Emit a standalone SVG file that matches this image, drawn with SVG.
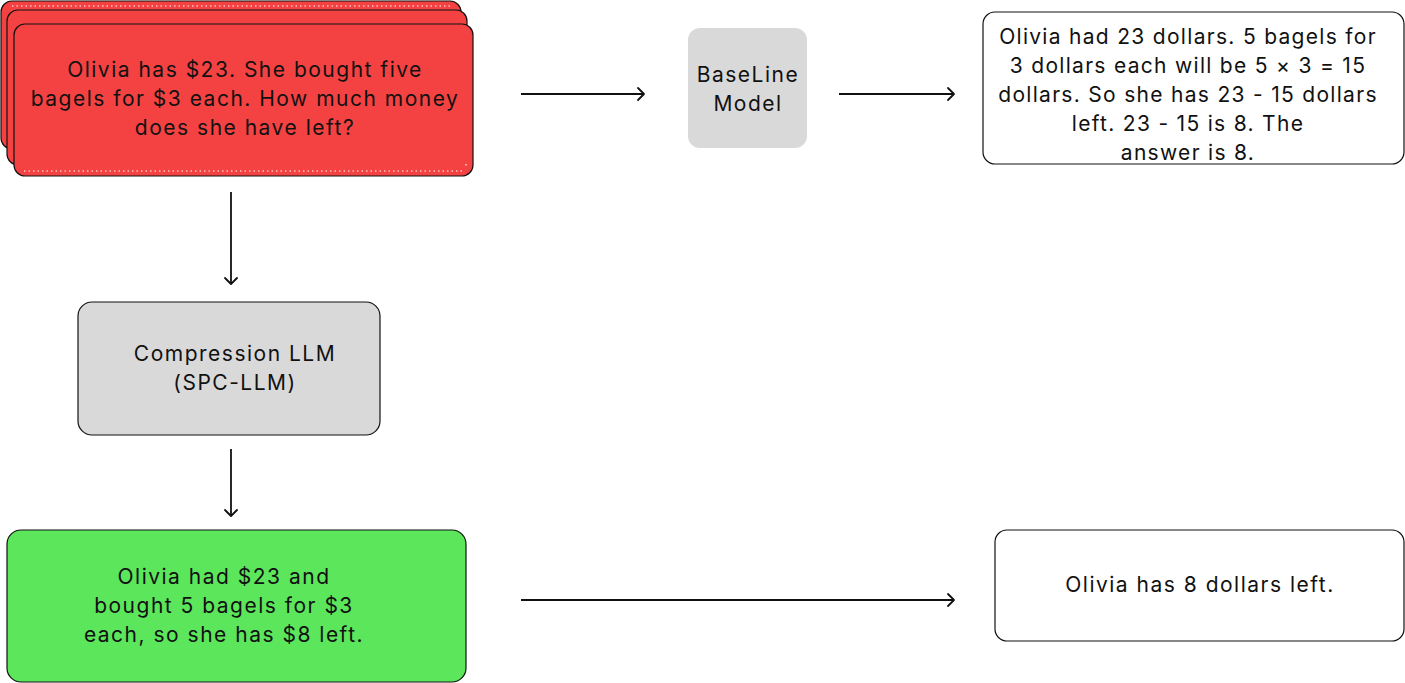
<svg xmlns="http://www.w3.org/2000/svg" width="1405" height="683" viewBox="0 0 1405 683">
<style>
text{font-family:Inter,"Noto Sans",sans-serif;font-size:21px;letter-spacing:1.5px;fill:#111;text-anchor:middle}
.tight{letter-spacing:1.3px}
.red{fill:#F44242;stroke:#111;stroke-width:1.2}
.gray{fill:#D9D9D9}
.box{stroke:#111;stroke-width:1.2}
.wline{fill:none;stroke:#fff;stroke-width:1.2;stroke-dasharray:1.5 3}
.conn{stroke:#111;stroke-width:1.8;fill:none}
.head{stroke:#111;stroke-width:1.8;fill:none;stroke-linecap:round;stroke-linejoin:round}
</style>
<rect width="1405" height="683" fill="#fff"/>
<g id="input">
<rect class="red" x="1" y="1" width="460" height="148" rx="11"/>
<path class="wline" d="M12 6 H452"/>
<rect class="red" x="7" y="10" width="460" height="155" rx="11"/>
<rect class="red" x="14" y="24" width="459" height="152" rx="11"/>
<path class="wline" d="M24 171 H462 M466 164 V168"/>
<text x="245" y="77">Olivia has $23. She bought five</text>
<text x="245" y="106">bagels for $3 each. How much money</text>
<text x="245" y="135">does she have left?</text>
</g>
<g id="baseline">
<rect class="gray" x="688" y="28" width="119" height="120" rx="12"/>
<text x="748" y="82">BaseLine</text>
<text x="748" y="111">Model</text>
</g>
<g id="baseline-output">
<rect class="box" fill="#fff" x="983" y="12" width="421" height="152" rx="12"/>
<text class="tight" x="1188" y="44">Olivia had 23 dollars. 5 bagels for</text>
<text class="tight" x="1188" y="73">3 dollars each will be 5 × 3 = 15</text>
<text class="tight" x="1188" y="102">dollars. So she has 23 - 15 dollars</text>
<text class="tight" x="1188" y="131">left. 23 - 15 is 8. The</text>
<text class="tight" x="1188" y="160">answer is 8.</text>
</g>
<g id="compression">
<rect class="gray box" x="78" y="302" width="302" height="133" rx="14"/>
<text x="235" y="361">Compression LLM</text>
<text x="235" y="390">(SPC-LLM)</text>
</g>
<g id="compressed">
<rect class="box" fill="#5CE65C" x="7" y="530" width="459" height="152" rx="14"/>
<text x="224" y="584">Olivia had $23 and</text>
<text x="224" y="613">bought 5 bagels for $3</text>
<text x="224" y="642">each, so she has $8 left.</text>
</g>
<g id="compressed-output">
<rect class="box" fill="#fff" x="995" y="530" width="409" height="111" rx="12"/>
<text x="1200" y="592">Olivia has 8 dollars left.</text>
</g>
<g id="connectors">
<path class="conn" d="M521 94 H644"/>
<path class="head" d="M638 88 L644 94 L638 100"/>
<path class="conn" d="M839 94 H954"/>
<path class="head" d="M948 88 L954 94 L948 100"/>
<path class="conn" d="M231 192 V284"/>
<path class="head" d="M225 278 L231 284 L237 278"/>
<path class="conn" d="M231 449 V516"/>
<path class="head" d="M225 510 L231 516 L237 510"/>
<path class="conn" d="M521 600 H954"/>
<path class="head" d="M948 594 L954 600 L948 606"/>
</g>
</svg>
